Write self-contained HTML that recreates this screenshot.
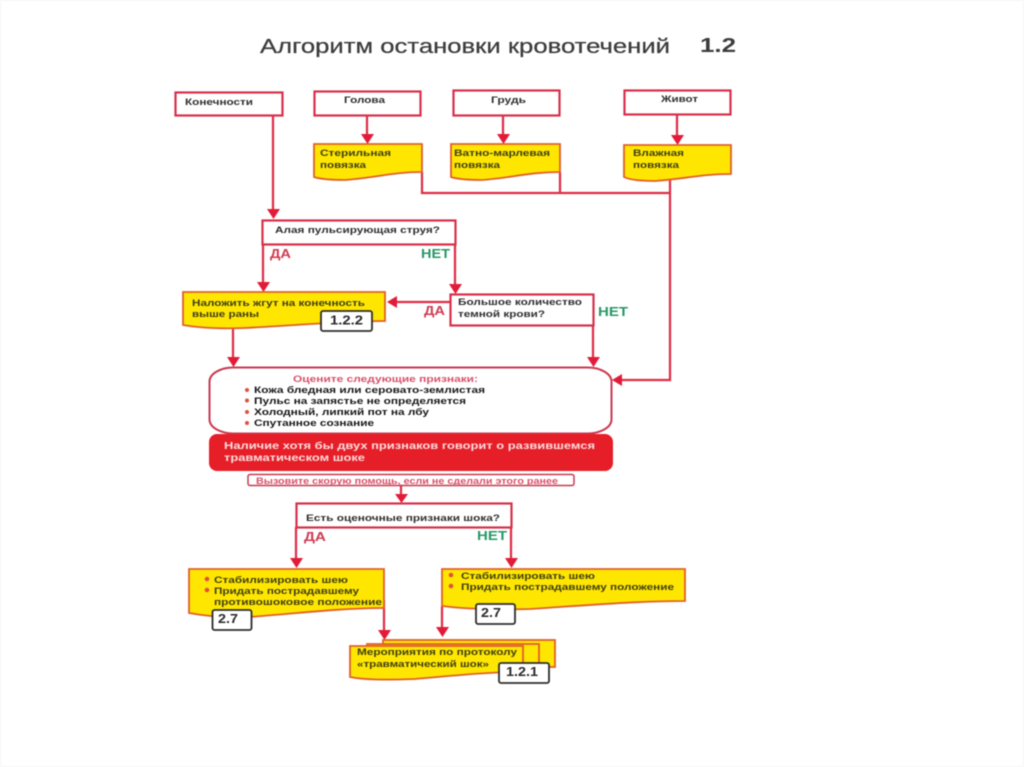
<!DOCTYPE html>
<html lang="ru"><head><meta charset="utf-8"><title>Алгоритм остановки кровотечений</title>
<style>
html,body{margin:0;padding:0;background:#fff;width:1024px;height:767px;overflow:hidden}
svg{display:block;filter:blur(.6px)}
text{font-family:"Liberation Sans",sans-serif}
.b{fill:#fff;stroke:#d62f4a;stroke-width:2.2}
.y{fill:#ffe600;stroke:#e0602a;stroke-width:1.8}
.l{fill:none;stroke:#de2c46;stroke-width:2.2}
.a{fill:#e21c38}
.t{font-size:9.5px;font-weight:bold;fill:#2e2e2e}
.ty{font-size:9.5px;font-weight:bold;fill:#3e3e14}
.tk{font-size:9.5px;font-weight:bold;fill:#161616}
.da{font-size:12.5px;font-weight:bold;fill:#d03c52}
.net{font-size:12.5px;font-weight:bold;fill:#289868}
.n{fill:#fff;stroke:#2c2c2c;stroke-width:1.8}
.nt{font-size:13px;font-weight:bold;fill:#2a2a2a}
.dot{fill:#e0503a}
</style></head><body>
<svg width="1024" height="767" viewBox="0 0 1024 767" xmlns="http://www.w3.org/2000/svg">
<rect x="0" y="0" width="1024" height="767" fill="#fff"/>
<rect x="0.500" y="0.500" width="1023" height="766" fill="none" stroke="#f5f5f5"/>
<text x="260" y="53" font-size="20.5" fill="#3c3c3c" stroke="#3c3c3c" stroke-width=".25" textLength="410" lengthAdjust="spacingAndGlyphs">Алгоритм остановки кровотечений</text>
<text x="700" y="52" font-size="20" font-weight="bold" fill="#3c3c3c" textLength="36" lengthAdjust="spacingAndGlyphs">1.2</text>

<!-- connectors -->
<path class="l" d="M273 116V210M367 116V134M503 115V134M677 115V135"/>
<path class="l" d="M422 172V193H670M560 172V193M670 180V380H622"/>
<path class="l" d="M263 245V282M455 245V284M450 302H397M233 328V357M593 326V357"/>
<path class="l" d="M401 486V494M296 527V558M511 527V558M384 600V630M442 606V627"/>

<!-- arrowheads -->
<path class="a" d="M267 209H280L273.500 219ZM361 134H374L367.500 144ZM497 134H510L503.500 144ZM671 135H684L677.500 145ZM257 282H270L263.500 292ZM449 284H462L455.500 294ZM397 296V308L387 302ZM227 357H240L233.500 367ZM587 357H600L593.500 367ZM622 374V386L612 380ZM395 494H408L401.500 503ZM290 558H303L296.500 568ZM505 558H518L511.500 568ZM378 630H391L384.500 640ZM436 627H449L442.500 637Z"/>

<!-- top boxes -->
<rect class="b" x="175.500" y="92.500" width="107" height="23"/>
<text class="t" x="185" y="105" textLength="68" lengthAdjust="spacingAndGlyphs">Конечности</text>
<rect class="b" x="314.500" y="91.500" width="106" height="24"/>
<text class="t" x="344" y="103" textLength="41" lengthAdjust="spacingAndGlyphs">Голова</text>
<rect class="b" x="453.500" y="90.500" width="106" height="25"/>
<text class="t" x="491" y="103" textLength="35" lengthAdjust="spacingAndGlyphs">Грудь</text>
<rect class="b" x="624.500" y="90.500" width="106" height="24"/>
<text class="t" x="661" y="102" textLength="37" lengthAdjust="spacingAndGlyphs">Живот</text>

<!-- yellow dressings -->
<path class="y" d="M314 144H422V172C392 172 375 178 345 180C330 180 320 179 314 177Z"/>
<text class="ty" x="320" y="156" textLength="71" lengthAdjust="spacingAndGlyphs">Стерильная</text>
<text class="ty" x="320" y="168" textLength="46" lengthAdjust="spacingAndGlyphs">повязка</text>
<path class="y" d="M451 144H560V172C530 172 510 178 482 180C467 180 457 179 451 177Z"/>
<text class="ty" x="454" y="156" textLength="96" lengthAdjust="spacingAndGlyphs">Ватно-марлевая</text>
<text class="ty" x="454" y="168" textLength="46" lengthAdjust="spacingAndGlyphs">повязка</text>
<path class="y" d="M624 145H731V174C700 174 685 179 655 181C640 181 630 180 624 177Z"/>
<text class="ty" x="633" y="156" textLength="51" lengthAdjust="spacingAndGlyphs">Влажная</text>
<text class="ty" x="633" y="168" textLength="46" lengthAdjust="spacingAndGlyphs">повязка</text>

<!-- question 1 -->
<rect class="b" x="262.500" y="220.500" width="193" height="24"/>
<text class="t" x="275" y="233" textLength="165" lengthAdjust="spacingAndGlyphs">Алая пульсирующая струя?</text>
<text class="da" x="270" y="258" textLength="21" lengthAdjust="spacingAndGlyphs">ДА</text>
<text class="net" x="421" y="258" textLength="29" lengthAdjust="spacingAndGlyphs">НЕТ</text>

<!-- tourniquet -->
<path class="y" d="M183 292H385V321C345 321 300 325 245 328C220 329 200 328 183 325Z" stroke-width="2"/>
<text class="ty" x="192" y="306" textLength="173" lengthAdjust="spacingAndGlyphs">Наложить жгут на конечность</text>
<text class="ty" x="192" y="317" textLength="67" lengthAdjust="spacingAndGlyphs">выше раны</text>
<rect class="n" x="321" y="311" width="51" height="20" rx="2"/>
<text class="nt" x="330" y="324.500" textLength="33" lengthAdjust="spacingAndGlyphs">1.2.2</text>

<!-- dark blood -->
<rect class="b" x="450.500" y="294.500" width="143" height="31"/>
<text class="t" x="458" y="305" textLength="124" lengthAdjust="spacingAndGlyphs">Большое количество</text>
<text class="t" x="458" y="317" textLength="87" lengthAdjust="spacingAndGlyphs">темной крови?</text>
<text class="da" x="424" y="315" textLength="21" lengthAdjust="spacingAndGlyphs">ДА</text>
<text class="net" x="598" y="316" textLength="30" lengthAdjust="spacingAndGlyphs">НЕТ</text>

<!-- assess signs -->
<rect x="209.500" y="367.500" width="402" height="66" rx="24" ry="14" fill="#fff" stroke="#c93a50" stroke-width="2"/>
<text x="293" y="382" font-size="9.500" font-weight="bold" fill="#d8506a" textLength="185" lengthAdjust="spacingAndGlyphs">Оцените следующие признаки:</text>
<circle class="dot" cx="247" cy="390" r="2"/><circle class="dot" cx="247" cy="400.500" r="2"/><circle class="dot" cx="247" cy="412" r="2"/><circle class="dot" cx="247" cy="423" r="2"/>
<text class="tk" x="254" y="393" textLength="231" lengthAdjust="spacingAndGlyphs">Кожа бледная или серовато-землистая</text>
<text class="tk" x="254" y="404" textLength="212" lengthAdjust="spacingAndGlyphs">Пульс на запястье не определяется</text>
<text class="tk" x="254" y="415" textLength="175" lengthAdjust="spacingAndGlyphs">Холодный, липкий пот на лбу</text>
<text class="tk" x="254" y="426" textLength="120" lengthAdjust="spacingAndGlyphs">Спутанное сознание</text>

<rect x="209" y="434" width="404" height="37" rx="8" fill="#e61e28"/>
<text x="224" y="449" font-size="10.500" font-weight="bold" fill="#fbdcdc" textLength="371" lengthAdjust="spacingAndGlyphs">Наличие хотя бы двух признаков говорит о развившемся</text>
<text x="224" y="461" font-size="10.500" font-weight="bold" fill="#fbdcdc" textLength="141" lengthAdjust="spacingAndGlyphs">травматическом шоке</text>

<rect x="248" y="474.500" width="326" height="11" rx="2" fill="#fff" stroke="#c93a50" stroke-width="1.500"/>
<text x="256" y="484" font-size="9" font-weight="bold" fill="#d8506a" textLength="302" lengthAdjust="spacingAndGlyphs">Вызовите скорую помощь, если не сделали этого ранее</text>

<!-- question 2 -->
<rect class="b" x="296.500" y="503.500" width="215" height="24"/>
<text class="t" x="306" y="521" textLength="194" lengthAdjust="spacingAndGlyphs">Есть оценочные признаки шока?</text>
<text class="da" x="304" y="541" textLength="22" lengthAdjust="spacingAndGlyphs">ДА</text>
<text class="net" x="477" y="540" textLength="30" lengthAdjust="spacingAndGlyphs">НЕТ</text>

<!-- left yellow -->
<path class="y" d="M189 569H384V608C345 608 300 613 250 617C225 618 205 616 189 613Z" stroke-width="2"/>
<circle class="dot" cx="207" cy="579" r="2.300"/><circle class="dot" cx="207" cy="590" r="2.300"/>
<text class="ty" x="214" y="583" textLength="134" lengthAdjust="spacingAndGlyphs">Стабилизировать шею</text>
<text class="ty" x="214" y="594" textLength="145" lengthAdjust="spacingAndGlyphs">Придать пострадавшему</text>
<text class="ty" x="214" y="605" textLength="168" lengthAdjust="spacingAndGlyphs">противошоковое положение</text>
<rect class="n" x="212.500" y="610" width="39" height="20" rx="2"/>
<text class="nt" x="218" y="623" textLength="20" lengthAdjust="spacingAndGlyphs">2.7</text>

<!-- right yellow -->
<path class="y" d="M442 569H685V601C640 601 590 605 530 609C500 610 465 609 442 606Z" stroke-width="2"/>
<circle class="dot" cx="451" cy="575" r="2.300"/><circle class="dot" cx="451" cy="586" r="2.300"/>
<text class="ty" x="461" y="579" textLength="134" lengthAdjust="spacingAndGlyphs">Стабилизировать шею</text>
<text class="ty" x="461" y="590" textLength="213" lengthAdjust="spacingAndGlyphs">Придать пострадавшему положение</text>
<rect class="n" x="476" y="604" width="39" height="20" rx="2"/>
<text class="nt" x="481" y="617" textLength="20" lengthAdjust="spacingAndGlyphs">2.7</text>

<!-- protocol stack -->
<rect class="y" x="383" y="640" width="172" height="27" stroke-width="2"/>
<rect class="y" x="367" y="644" width="172" height="28" stroke-width="2"/>
<path class="y" d="M350 646H523V672C490 672 460 675 415 679C385 680 365 680 350 677Z" stroke-width="2"/>
<text class="ty" x="357" y="655" textLength="160" lengthAdjust="spacingAndGlyphs">Мероприятия по протоколу</text>
<text class="ty" x="357" y="667" textLength="132" lengthAdjust="spacingAndGlyphs">«травматический шок»</text>
<rect class="n" x="499" y="663" width="50" height="20" rx="2"/>
<text class="nt" x="506" y="676" textLength="32" lengthAdjust="spacingAndGlyphs">1.2.1</text>
</svg>
</body></html>
